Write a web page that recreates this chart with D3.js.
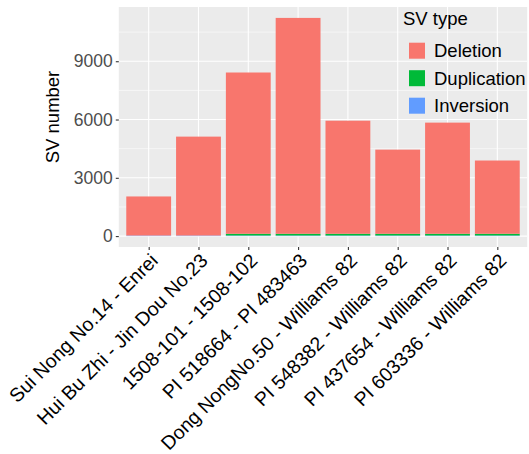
<!DOCTYPE html>
<html>
<head>
<meta charset="utf-8">
<script src="https://cdn.jsdelivr.net/npm/d3@7"></script>
<style>
  body { margin: 0; background: #fff; }
  text { font-family: "Liberation Sans", Arial, sans-serif; }
</style>
</head>
<body>
<div id="chart"></div>
<script>
// data
var pairs = ["Sui Nong No.14 - Enrei", "Hui Bu Zhi - Jin Dou No.23", "1508-101 - 1508-102",
  "PI 518664 - PI 483463", "Dong NongNo.50 - Williams 82", "PI 548382 - Williams 82",
  "PI 437654 - Williams 82", "PI 603336 - Williams 82"];
var deletion    = [2010, 5090, 8300, 11110, 5820, 4330, 5720, 3770];
var duplication = [0, 0, 90, 90, 90, 90, 90, 90];
var inversion   = [30, 30, 30, 30, 30, 30, 30, 30];
var svTypes = ["Deletion", "Duplication", "Inversion"];
var svColors = ["#F8766D", "#00BA38", "#619CFF"];
var yTicks = [0, 3000, 6000, 9000];
var yMinor = [1500, 4500, 7500, 10500];

var w = 529, h = 454;
var pLeft = 118.8, pRight = 527.2, pTop = 7, pBottom = 247;

var rows = pairs.map(function(p, i) {
  return { pair: p, Deletion: deletion[i], Duplication: duplication[i], Inversion: inversion[i] };
});
// ggplot stacks first level on top, so inversion sits at the bottom
var stack = d3.stack().keys(["Inversion", "Duplication", "Deletion"]);
var series = stack(rows);
var maxTotal = d3.max(rows, function(d) { return d.Deletion + d.Duplication + d.Inversion; });

var x = d3.scalePoint().domain(pairs).range([pLeft, pRight]).padding(0.6);
var bw = x.step() * 0.9;
var y = d3.scaleLinear().domain([-0.05 * maxTotal, maxTotal * 1.05]).range([pBottom, pTop]);
var color = d3.scaleOrdinal().domain(svTypes).range(svColors);

var svg = d3.select("#chart").append("svg")
    .attr("width", w)
    .attr("height", h);

// panel
svg.append("rect")
    .attr("x", pLeft).attr("y", pTop)
    .attr("width", pRight - pLeft).attr("height", pBottom - pTop)
    .attr("fill", "#EBEBEB");

svg.selectAll("line.minor").data(yMinor).enter().append("line")
    .attr("x1", pLeft).attr("x2", pRight)
    .attr("y1", function(d) { return y(d); }).attr("y2", function(d) { return y(d); })
    .attr("stroke", "#fff").attr("stroke-width", 0.55);
svg.selectAll("line.major").data(yTicks).enter().append("line")
    .attr("x1", pLeft).attr("x2", pRight)
    .attr("y1", function(d) { return y(d); }).attr("y2", function(d) { return y(d); })
    .attr("stroke", "#fff").attr("stroke-width", 1.1);
svg.selectAll("line.vgrid").data(pairs).enter().append("line")
    .attr("x1", function(d) { return x(d); }).attr("x2", function(d) { return x(d); })
    .attr("y1", pTop).attr("y2", pBottom)
    .attr("stroke", "#fff").attr("stroke-width", 1.1);

// bars
var layers = svg.selectAll("g.layer").data(series).enter().append("g")
    .attr("fill", function(d) { return color(d.key); });
layers.selectAll("rect").data(function(d) { return d; }).enter().append("rect")
    .attr("x", function(d) { return x(d.data.pair) - bw / 2; })
    .attr("width", bw)
    .attr("y", function(d) { return y(d[1]); })
    .attr("height", function(d) { return y(d[0]) - y(d[1]); });

// y axis
var yAxis = svg.append("g")
    .attr("transform", "translate(" + pLeft + ",0)")
    .call(d3.axisLeft(y).tickValues(yTicks).tickFormat(d3.format("d")).tickSize(3).tickPadding(3));
yAxis.select(".domain").remove();
yAxis.selectAll(".tick line").attr("stroke", "#333333").attr("stroke-width", 1.1);
yAxis.selectAll(".tick text")
    .attr("fill", "#4D4D4D")
    .style("font-size", "17.5px")
    .style("font-family", "Liberation Sans, Arial, sans-serif");

// x axis
var xAxis = svg.append("g")
    .attr("transform", "translate(0," + pBottom + ")")
    .call(d3.axisBottom(x).tickSize(3).tickPadding(3));
xAxis.select(".domain").remove();
xAxis.selectAll(".tick line").attr("stroke", "#333333").attr("stroke-width", 1.1);
xAxis.selectAll(".tick text")
    .attr("fill", "#000")
    .attr("text-anchor", "end")
    .attr("dy", "0.72em")
    .attr("y", 5)
    .attr("transform", "rotate(-45,0,5)")
    .style("font-size", "19.5px")
    .style("font-family", "Liberation Sans, Arial, sans-serif");

svg.append("text")
    .attr("transform", "translate(59,117) rotate(-90)")
    .attr("text-anchor", "middle")
    .style("font-size", "18.5px")
    .text("SV number");

// legend
var legend = svg.append("g").attr("transform", "translate(403,0)");
legend.append("text")
    .attr("x", 0).attr("y", 25)
    .style("font-size", "18.5px")
    .text("SV type");
var items = legend.selectAll("g.item").data(svTypes).enter().append("g")
    .attr("transform", function(d, i) { return "translate(6," + (42.7 + i * 27.5) + ")"; });
items.append("rect")
    .attr("width", 16).attr("height", 16)
    .attr("fill", function(d) { return color(d); });
items.append("text")
    .attr("x", 25).attr("y", 8)
    .attr("dy", "0.36em")
    .style("font-size", "18.5px")
    .text(function(d) { return d; });
</script>
</body>
</html>
